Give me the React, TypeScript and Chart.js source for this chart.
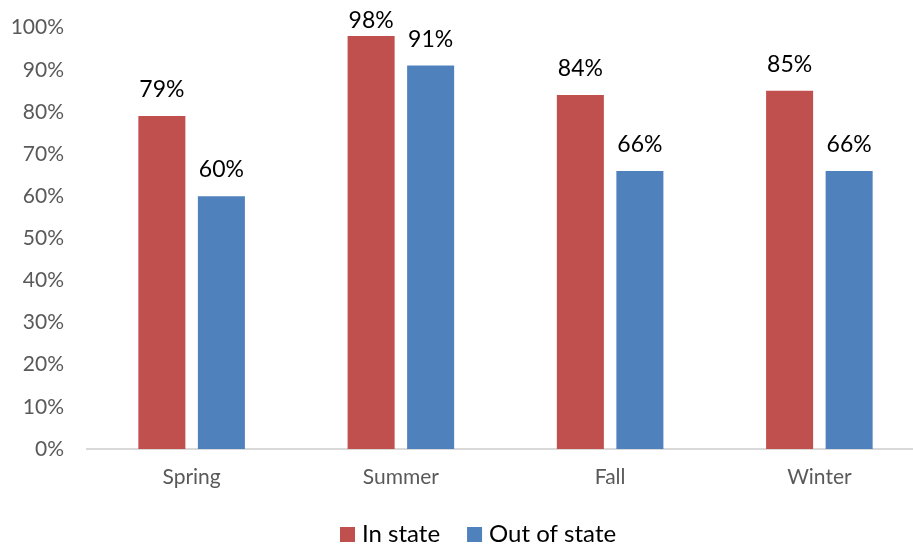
import React, { useEffect, useRef } from "react";
import { Chart, registerables } from "chart.js";

Chart.register(...registerables);

const categories = ["Spring", "Summer", "Fall", "Winter"];
const inState = [79, 98, 84, 85];
const outOfState = [60, 91, 66, 66];
const inStateLabels = ["79%", "98%", "84%", "85%"];
const outOfStateLabels = ["60%", "91%", "66%", "66%"];
const yTicks = [0, 10, 20, 30, 40, 50, 60, 70, 80, 90, 100];

const FONT = "Lato, 'Open Sans', sans-serif";

const valueLabels = {
  id: "valueLabels",
  afterDatasetsDraw(chart: any) {
    const ctx = chart.ctx;
    const labelSets = [inStateLabels, outOfStateLabels];
    ctx.save();
    ctx.font = `23px ${FONT}`;
    ctx.fillStyle = "#000000";
    ctx.textAlign = "center";
    ctx.textBaseline = "alphabetic";
    chart.data.datasets.forEach((_: any, di: number) => {
      const meta = chart.getDatasetMeta(di);
      meta.data.forEach((bar: any, i: number) => {
        const y = Math.max(bar.y - 19, 28);
        ctx.fillText(labelSets[di][i], bar.x, y);
      });
    });
    ctx.restore();
  },
};

const bottomLegend = {
  id: "bottomLegend",
  afterDraw(chart: any) {
    const ctx = chart.ctx;
    ctx.save();
    ctx.font = `24px ${FONT}`;
    ctx.textBaseline = "alphabetic";
    ctx.textAlign = "left";
    let x = 340;
    const baseline = 542;
    chart.data.datasets.forEach((ds: any) => {
      ctx.fillStyle = ds.backgroundColor;
      ctx.fillRect(x, 527, 15, 15);
      ctx.fillStyle = "#000000";
      ctx.fillText(ds.label, x + 22, baseline);
      x += 22 + ctx.measureText(ds.label).width + 27;
    });
    ctx.restore();
  },
};

export default function App() {
  const ref = useRef<HTMLCanvasElement>(null);
  useEffect(() => {
    document.body.style.margin = "0";
    const chart = new Chart(ref.current!, {
      type: "bar",
      data: {
        labels: categories,
        datasets: [
          { label: "In state", data: inState, backgroundColor: "#C0504D" },
          { label: "Out of state", data: outOfState, backgroundColor: "#4F81BD" },
        ],
      },
      options: {
        animation: false,
        responsive: false,
        devicePixelRatio: 1,
        layout: { padding: { top: 13, right: 0, left: 0, bottom: 39 } },
        datasets: {
          bar: { categoryPercentage: 0.569, barPercentage: 0.79 },
        },
        plugins: {
          legend: { display: false },
          tooltip: { enabled: false },
        },
        scales: {
          x: {
            grid: { display: false },
            border: { color: "#D9D9D9", width: 2 },
            afterFit: (scale: any) => {
              scale.height = 56;
            },
            ticks: {
              font: { family: FONT, size: 21 },
              color: "#595959",
              padding: 8,
            },
          },
          y: {
            min: 0,
            max: 100,
            afterBuildTicks: (scale: any) => {
              scale.ticks = yTicks.map((v) => ({ value: v }));
            },
            afterFit: (scale: any) => {
              scale.width = 87;
            },
            grid: { display: false },
            border: { display: false },
            ticks: {
              font: { family: FONT, size: 21 },
              color: "#595959",
              padding: 15,
              callback: (v: any) => `${v}%`,
            },
          },
        },
      },
      plugins: [valueLabels, bottomLegend],
    });
    return () => chart.destroy();
  }, []);
  return (
    <div style={{ width: 913, height: 544, overflow: "hidden" }}>
      <canvas ref={ref} width={924} height={544} />
    </div>
  );
}
